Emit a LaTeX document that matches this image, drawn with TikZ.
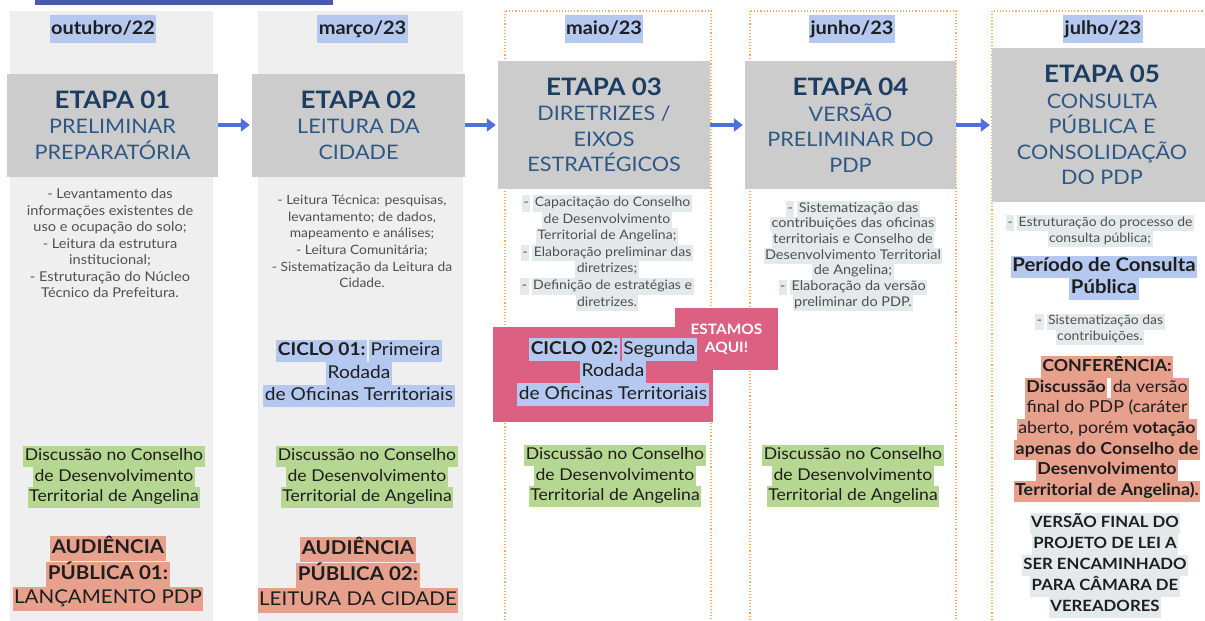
\documentclass[tikz,border=0pt]{standalone}
\usepackage{fontspec}
\setmainfont{Lato}[FakeStretch=1.08]
\usetikzlibrary{arrows.meta}
\definecolor{colbgc}{RGB}{239,239,239}
\definecolor{boxgray}{RGB}{204,204,204}
\definecolor{navy}{RGB}{28,61,99}
\definecolor{subnavy}{RGB}{45,88,133}
\definecolor{hlblue}{RGB}{180,200,240}
\definecolor{hlgreen}{RGB}{182,215,146}
\definecolor{hlsalmon}{RGB}{230,160,140}
\definecolor{hlgray}{RGB}{228,234,235}
\definecolor{pinkbox}{RGB}{219,96,129}
\definecolor{dotorange}{RGB}{245,170,100}
\definecolor{arrowblue}{RGB}{80,110,220}
\definecolor{topbar}{RGB}{72,90,170}
\definecolor{desctext}{RGB}{80,80,80}
\definecolor{darktext}{RGB}{30,30,30}
\newcommand{\hlx}[2]{{\setlength{\fboxsep}{0pt}\colorbox{#1}{\strut\hspace{1.5pt}#2\hspace{1.5pt}}}}
\newcommand{\hld}[1]{\hlx{hlgray}{-}\hspace{3pt}\hlx{hlgray}{#1}}
\newcommand{\etapatitle}[1]{{\fontsize{24}{25.5}\selectfont\bfseries\color{navy}#1}}
\tikzset{
  colfill/.style={fill=colbgc, draw=none},
  coldot/.style={draw=dotorange, line width=1.1pt, dash pattern=on 1.1pt off 2pt, fill=white},
  etapa/.style={fill=boxgray, align=center, inner sep=0pt, text=subnavy, font=\fontsize{20}{25.5}\selectfont},
  datelbl/.style={inner sep=0pt, text=darktext, font=\fontsize{18.5}{28}\selectfont\bfseries},
  desc/.style={align=center, inner sep=0pt, text=desctext},
  ciclo/.style={align=center, inner sep=0pt, text=darktext, font=\fontsize{17.7}{22.5}\selectfont},
  greenlbl/.style={align=center, inner sep=0pt, text=darktext, font=\fontsize{16.3}{20.5}\selectfont},
  audlbl/.style={align=center, inner sep=0pt, text=darktext, font=\fontsize{19}{24.5}\selectfont},
  periodo/.style={align=center, inner sep=0pt, text=darktext, font=\fontsize{18.9}{22}\selectfont\bfseries},
  conf/.style={align=center, inner sep=0pt, text=darktext, font=\fontsize{16.5}{20.7}\selectfont},
  finallbl/.style={align=center, inner sep=0pt, text=darktext, font=\fontsize{15.5}{21}\selectfont\bfseries},
  pinkfill/.style={fill=pinkbox, draw=none, inner sep=0pt},
  flow/.style={arrowblue, line width=3.5pt, -{Triangle[length=9pt,width=13pt]}, shorten >=2pt}
}
\begin{document}
\begin{tikzpicture}[x=1pt,y=-1pt]
\useasboundingbox (0,0) rectangle (1205,621);
% top bar
\fill[topbar] (35,0) rectangle (333,5);
% columns
\fill[colfill] (10,11) rectangle (213,625);
\fill[colfill] (258,11) rectangle (463,625);
\draw[coldot] (505,11) rectangle (711,640);
\draw[coldot] (750,11) rectangle (956,640);
\draw[coldot] (992,11) rectangle (1220,640);
% dates
\node[datelbl] (d1) at (103,29) {\hlx{hlblue}{outubro/22}};
\node[datelbl] (d2) at (362.5,29) {\hlx{hlblue}{março/23}};
\node[datelbl] (d3) at (604,29) {\hlx{hlblue}{maio/23}};
\node[datelbl] (d4) at (852,29) {\hlx{hlblue}{junho/23}};
\node[datelbl] (d5) at (1103,29) {\hlx{hlblue}{julho/23}};
% etapas
\node[etapa, minimum width=211pt, minimum height=103pt] (e1) at (112.5,125)
  {\etapatitle{ETAPA 01}\\PRELIMINAR\\PREPARATÓRIA};
\node[etapa, minimum width=213pt, minimum height=103pt] (e2) at (358.5,125)
  {\etapatitle{ETAPA 02}\\LEITURA DA\\CIDADE};
\node[etapa, minimum width=212pt, minimum height=128pt] (e3) at (604,125)
  {\etapatitle{ETAPA 03}\\DIRETRIZES /\\EIXOS\\ESTRATÉGICOS};
\node[etapa, minimum width=211pt, minimum height=128pt] (e4) at (850.5,125)
  {\etapatitle{ETAPA 04}\\VERSÃO\\PRELIMINAR DO\\PDP};
\node[etapa, minimum width=220pt, minimum height=154pt] (e5) at (1102,125)
  {\etapatitle{ETAPA 05}\\CONSULTA\\PÚBLICA E\\CONSOLIDAÇÃO\\DO PDP};
\draw[flow] (e1.east) -- (e2.west);
\draw[flow] (e2.east) -- (e3.west);
\draw[flow] (e3.east) -- (e4.west);
\draw[flow] (e4.east) -- (e5.west);
% descriptions
\node[desc, font=\fontsize{13.5}{16.5}\selectfont] (t1) at (110,243.5) {- Levantamento das\\informações existentes de\\uso e ocupação do solo;\\- Leitura da estrutura\\institucional;\\- Estruturação do Núcleo\\Técnico da Prefeitura.};
\node[desc, font=\fontsize{12.8}{16.6}\selectfont] (t2) at (362,241.5) {- Leitura Técnica: pesquisas,\\levantamento; de dados,\\mapeamento e análises;\\- Leitura Comunitária;\\- Sistematização da Leitura da\\Cidade.};
\node[desc, font=\fontsize{13}{16.6}\selectfont] (t3) at (607,253) {\hld{Capacitação do Conselho}\\\hlx{hlgray}{de Desenvolvimento}\\\hlx{hlgray}{Territorial de Angelina;}\\\hld{Elaboração preliminar das}\\\hlx{hlgray}{diretrizes;}\\\hld{Definição de estratégias e}\\\hlx{hlgray}{diretrizes.}};
\node[desc, font=\fontsize{13.4}{15.7}\selectfont] (t4) at (853,256) {\hld{Sistematização das}\\\hlx{hlgray}{contribuições das oficinas}\\\hlx{hlgray}{territoriais e Conselho de}\\\hlx{hlgray}{Desenvolvimento Territorial}\\\hlx{hlgray}{de Angelina;}\\\hld{Elaboração da versão}\\\hlx{hlgray}{preliminar do PDP.}};
\node[desc, font=\fontsize{12.9}{15.8}\selectfont] (t5a) at (1100,231) {\hld{Estruturação do processo de}\\\hlx{hlgray}{consulta pública;}};
\node[periodo] (p5) at (1104,278) {\hlx{hlblue}{Período de Consulta}\\\hlx{hlblue}{Pública}};
\node[desc, font=\fontsize{12.9}{15.8}\selectfont] (t5b) at (1100,329.5) {\hld{Sistematização das}\\\hlx{hlgray}{contribuições.}};
\node[conf] (c5) at (1107,429) {\hlx{hlsalmon}{\textbf{CONFERÊNCIA:}}\\\hlx{hlsalmon}{\textbf{Discussão}}\hspace{4pt}\hlx{hlsalmon}{da versão}\\\hlx{hlsalmon}{final do PDP (caráter}\\\hlx{hlsalmon}{aberto, porém \textbf{votação}}\\\hlx{hlsalmon}{\textbf{apenas do Conselho de}}\\\hlx{hlsalmon}{\textbf{Desenvolvimento}}\\\hlx{hlsalmon}{\textbf{Territorial de Angelina).}}};
\node[finallbl] (f5) at (1105,565) {\hlx{hlgray}{VERSÃO FINAL DO}\\\hlx{hlgray}{PROJETO DE LEI A}\\\hlx{hlgray}{SER ENCAMINHADO}\\\hlx{hlgray}{PARA CÂMARA DE}\\\hlx{hlgray}{VEREADORES}};
% ciclos
\node[ciclo] (c1) at (359,373.5) {\hlx{hlblue}{\textbf{CICLO 01:}}\hspace{2pt}\hlx{hlblue}{Primeira}\\\hlx{hlblue}{Rodada}\\\hlx{hlblue}{de Oficinas Territoriais}};
\node[pinkfill, minimum width=220pt, minimum height=95pt] (pk) at (603,374.5) {};
\node[pinkfill, minimum width=103pt, minimum height=62pt, align=center, text=white, font=\fontsize{14.3}{18}\selectfont\bfseries] (aqui) at (726.5,339) {ESTAMOS\\AQUI!};
\node[ciclo] (c2) at (613,372) {\hlx{hlblue}{\textbf{CICLO 02:}}\hspace{2pt}\hlx{hlblue}{Segunda}\\\hlx{hlblue}{Rodada}\\\hlx{hlblue}{de Oficinas Territoriais}};
% green discussions
\node[greenlbl] (g1) at (114,477) {\hlx{hlgreen}{Discussão no Conselho}\\\hlx{hlgreen}{de Desenvolvimento}\\\hlx{hlgreen}{Territorial de Angelina}};
\node[greenlbl] (g2) at (367,477) {\hlx{hlgreen}{Discussão no Conselho}\\\hlx{hlgreen}{de Desenvolvimento}\\\hlx{hlgreen}{Territorial de Angelina}};
\node[greenlbl] (g3) at (615,476) {\hlx{hlgreen}{Discussão no Conselho}\\\hlx{hlgreen}{de Desenvolvimento}\\\hlx{hlgreen}{Territorial de Angelina}};
\node[greenlbl] (g4) at (853,476) {\hlx{hlgreen}{Discussão no Conselho}\\\hlx{hlgreen}{de Desenvolvimento}\\\hlx{hlgreen}{Territorial de Angelina}};
% audiencias
\node[audlbl] (a1) at (108,573.5) {\hlx{hlsalmon}{\textbf{AUDIÊNCIA}}\\\hlx{hlsalmon}{\textbf{PÚBLICA 01:}}\\\hlx{hlsalmon}{LANÇAMENTO PDP}};
\node[audlbl] (a2) at (358,575) {\hlx{hlsalmon}{\textbf{AUDIÊNCIA}}\\\hlx{hlsalmon}{\textbf{PÚBLICA 02:}}\\\hlx{hlsalmon}{LEITURA DA CIDADE}};
\end{tikzpicture}
\end{document}
